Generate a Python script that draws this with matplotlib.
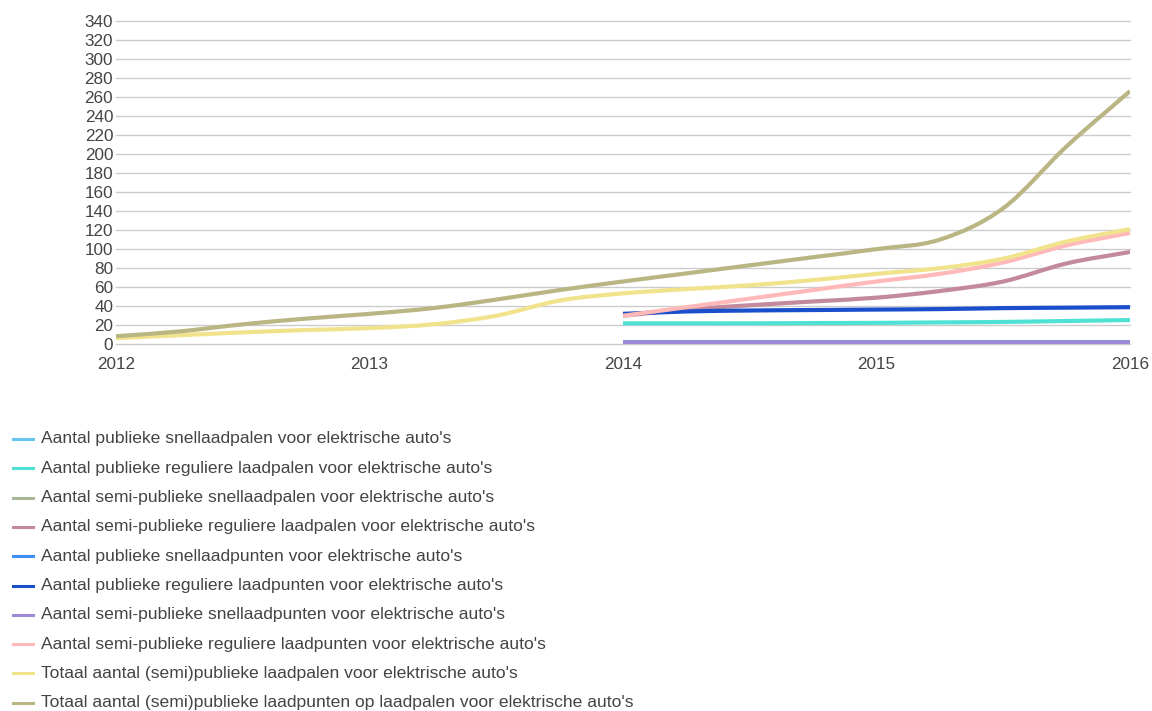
import matplotlib
matplotlib.use("Agg")
import matplotlib.pyplot as plt
import numpy as np
from matplotlib.path import Path
from matplotlib.patches import PathPatch
from matplotlib.lines import Line2D

# quarterly sample points, 2012 - 2016 and 2014 - 2016
years_all = [2012, 2012.25, 2012.5, 2012.75, 2013, 2013.25, 2013.5, 2013.75,
             2014, 2014.25, 2014.5, 2014.75, 2015, 2015.25, 2015.5, 2015.75, 2016]
years_late = [2014, 2014.25, 2014.5, 2014.75, 2015, 2015.25, 2015.5, 2015.75, 2016]

pub_snel_palen = [2, 2, 2, 2, 2, 2, 2, 2, 2]
pub_reg_palen = [22, 22, 22, 22.3, 22.5, 23, 23.5, 24.5, 25.5]
semi_snel_palen = [2, 2, 2, 2, 2, 2, 2, 2, 2]
semi_reg_palen = [30, 36.5, 41, 45, 49, 56, 66, 85, 97]
pub_snel_punten = [2, 2, 2, 2, 2, 2, 2, 2, 2]
pub_reg_punten = [32, 34.5, 35.5, 36, 36.5, 37, 38, 38.5, 39]
semi_snel_punten = [2, 2, 2, 2, 2, 2, 2, 2, 2]
semi_reg_punten = [30, 39, 48, 57, 66, 74, 86, 104, 117]
totaal_palen = [6.5, 9.5, 12.5, 15, 17, 21, 30, 46, 53.5,
                58, 62, 67.5, 74, 80, 90, 108, 121]
totaal_punten = [8.5, 13.5, 21, 27, 32, 38, 47, 57, 66,
                 74.5, 83, 91.5, 100, 110, 143, 208, 266]

labels = [
    "Aantal publieke snellaadpalen voor elektrische auto's",
    "Aantal publieke reguliere laadpalen voor elektrische auto's",
    "Aantal semi-publieke snellaadpalen voor elektrische auto's",
    "Aantal semi-publieke reguliere laadpalen voor elektrische auto's",
    "Aantal publieke snellaadpunten voor elektrische auto's",
    "Aantal publieke reguliere laadpunten voor elektrische auto's",
    "Aantal semi-publieke snellaadpunten voor elektrische auto's",
    "Aantal semi-publieke reguliere laadpunten voor elektrische auto's",
    "Totaal aantal (semi)publieke laadpalen voor elektrische auto's",
    "Totaal aantal (semi)publieke laadpunten op laadpalen voor elektrische auto's",
]
colors = ["#66c4f4", "#4fe2d4", "#a6b795", "#c28a9c", "#3f8ff4",
          "#1a4fcc", "#a08ad8", "#ffb9b9", "#f1e38c", "#bab684"]

series = [
    (years_late, pub_snel_palen),
    (years_late, pub_reg_palen),
    (years_late, semi_snel_palen),
    (years_late, semi_reg_palen),
    (years_late, pub_snel_punten),
    (years_late, pub_reg_punten),
    (years_late, semi_snel_punten),
    (years_late, semi_reg_punten),
    (years_all, totaal_palen),
    (years_all, totaal_punten),
]


def smooth_path(x, y):
    # catmull-rom through the points, written as cubic bezier segments
    pts = np.column_stack([x, y]).astype(float)
    n = len(pts)
    verts = [pts[0]]
    codes = [Path.MOVETO]
    for i in range(n - 1):
        p0 = pts[i - 1] if i > 0 else pts[i]
        p1 = pts[i]
        p2 = pts[i + 1]
        # extend the end tangents instead of flattening them
        p0 = pts[i] - (pts[i + 1] - pts[i]) if i == 0 else p0
        p3 = pts[i + 2] if i + 2 < n else pts[i + 1] + (pts[i + 1] - pts[i])
        verts += [p1 + (p2 - p0) / 6, p2 - (p3 - p1) / 6, p2]
        codes += [Path.CURVE4] * 3
    return Path(verts, codes)


fig = plt.figure(figsize=(11.52, 7.11), dpi=100)
W, H = 1152, 711
ax = fig.add_axes([116 / W, 1 - 344.3 / H, (1130 - 116) / W, (344.3 - 20.7) / H])

for (x, y), c in zip(series, colors):
    ax.add_patch(PathPatch(smooth_path(x, y), fill=False, edgecolor=c,
                           lw=3.0, capstyle="butt", joinstyle="round", zorder=3))

ax.set_xlim(2012, 2016)
ax.set_ylim(0, 340)
ax.set_yticks(range(0, 341, 20))
ax.set_xticks([2012, 2013, 2014, 2015, 2016])
ax.set_xticklabels(["2012", "2013", "2014", "2015", "2016"])
ax.grid(axis="y", color="#cccccc", linewidth=1.0, zorder=0)
for gl in ax.get_ygridlines():
    gl.set_clip_on(False)
for s in ax.spines.values():
    s.set_visible(False)
ax.tick_params(axis="both", length=0, labelsize=12.3, labelcolor="#444444",
               labelfontfamily="Liberation Sans")
ax.tick_params(axis="y", pad=2)
ax.tick_params(axis="x", pad=9)

# legend rows below the chart
for i, (lab, c) in enumerate(zip(labels, colors)):
    yy = 1 - (439 + i * 29.3) / H
    fig.add_artist(Line2D([13 / W, 33 / W], [yy, yy], color=c, lw=2.2,
                          transform=fig.transFigure))
    fig.text(41 / W, yy, lab, va="center", ha="left", fontsize=12.6,
             color="#444444", family="Liberation Sans")

fig.savefig("out.png", dpi=100)
